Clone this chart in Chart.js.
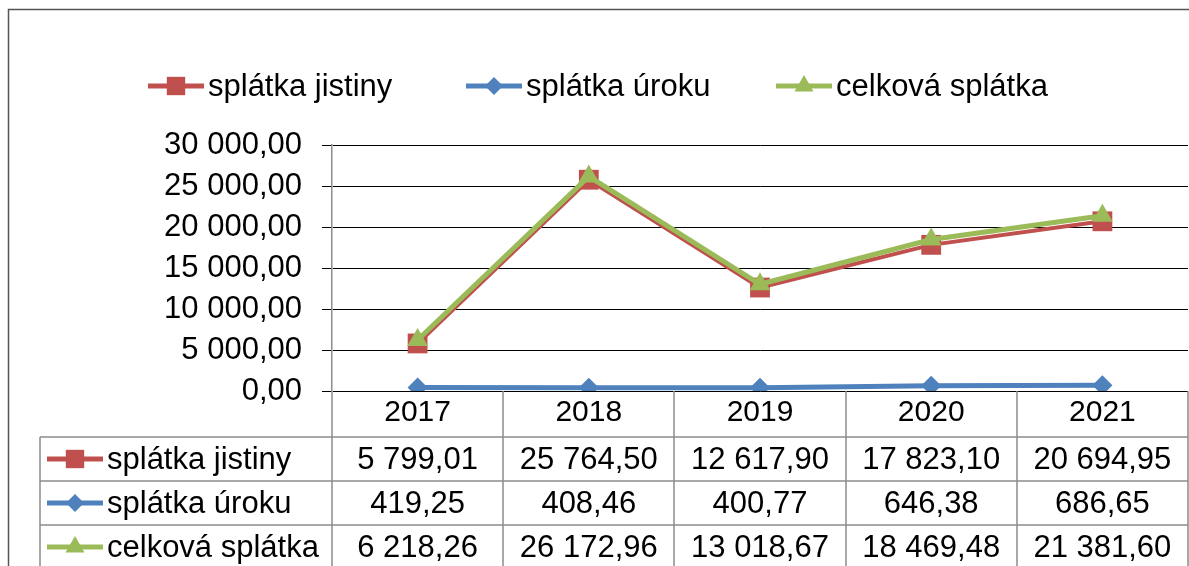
<!DOCTYPE html>
<html>
<head>
<meta charset="utf-8">
<script src="https://cdn.jsdelivr.net/npm/chart.js@4/dist/chart.umd.min.js"></script>
<style>
body { margin: 0; background: #fff; }
</style>
</head>
<body>
<canvas id="graf" width="1189" height="566"></canvas>
<script>
// data
const roky = ["2017", "2018", "2019", "2020", "2021"];
const jistina = [5799.01, 25764.50, 12617.90, 17823.10, 20694.95];
const urok = [419.25, 408.46, 400.77, 646.38, 686.65];
const celkem = [6218.26, 26172.96, 13018.67, 18469.48, 21381.60];
const nazvy = ["splátka jistiny", "splátka úroku", "celková splátka"];
const osaMax = 30000;
const osaKrok = 5000;

const barvy = ["#C0504D", "#4F81BD", "#9BBB59"];
const znacky = ["rect", "rectRot", "triangle"];
const polomery = [14, 10, 12];
const pismo = "'Liberation Sans', Arial, sans-serif";
const velikost = 31;

function cislo(v) {
  var s = Number(v).toFixed(2).split(".");
  var cela = s[0].replace(/\B(?=(\d{3})+(?!\d))/g, " ");
  return cela + "," + s[1];
}

function znacka(ctx, i, x, y) {
  ctx.save();
  ctx.strokeStyle = barvy[i];
  ctx.lineWidth = 5;
  ctx.beginPath();
  ctx.moveTo(x - 28, y);
  ctx.lineTo(x + 28, y);
  ctx.stroke();
  ctx.fillStyle = barvy[i];
  Chart.helpers.drawPoint(ctx, { pointStyle: znacky[i], radius: polomery[i] - 1, rotation: 0, borderWidth: 0 }, x, y);
  ctx.restore();
}

// ramecek, legenda a tabulka
const tabulka = {
  id: "tabulka",
  afterDraw(chart) {
    const ctx = chart.ctx;
    const x = chart.scales.x;
    const area = chart.chartArea;
    const rady = [jistina, urok, celkem];

    ctx.save();
    // ramecek grafu
    ctx.strokeStyle = "#555";
    ctx.lineWidth = 1.5;
    ctx.strokeRect(8.5, 9.5, 1400, 800);

    // legenda
    const legX = [176, 494, 804];
    ctx.font = velikost + "px " + pismo;
    ctx.textBaseline = "middle";
    ctx.textAlign = "left";
    for (var i = 0; i < 3; i++) {
      znacka(ctx, i, legX[i], 86);
      ctx.fillStyle = "#000";
      ctx.fillText(nazvy[i], legX[i] + 32, 87);
    }

    // mrizka tabulky
    const sirka = x.getPixelForValue(1) - x.getPixelForValue(0);
    const levo = 40;
    const hlavicka = area.bottom;
    const radek = 44;
    const prvni = x.bottom;
    ctx.strokeStyle = "#8c8c8c";
    ctx.lineWidth = 1.5;
    ctx.beginPath();
    for (var r = 0; r < 3; r++) {
      ctx.moveTo(levo, prvni + r * radek);
      ctx.lineTo(area.right, prvni + r * radek);
    }
    ctx.moveTo(levo, prvni);
    ctx.lineTo(levo, 566);
    for (var c = 0; c <= roky.length; c++) {
      var px = Math.round(x.getPixelForValue(0) - sirka / 2 + c * sirka);
      if (c == roky.length) px = area.right;
      ctx.moveTo(px, hlavicka);
      ctx.lineTo(px, 566);
    }
    ctx.stroke();

    // radky tabulky
    for (var r = 0; r < 3; r++) {
      var cy = prvni + r * radek + radek / 2;
      znacka(ctx, r, 75, cy);
      ctx.fillStyle = "#000";
      ctx.textAlign = "left";
      ctx.fillText(nazvy[r], 107, cy + 1);
      ctx.textAlign = "center";
      for (var c = 0; c < roky.length; c++) {
        ctx.fillText(cislo(rady[r][c]), x.getPixelForValue(c), cy + 1);
      }
    }
    ctx.restore();
  }
};

Chart.defaults.font.family = pismo;
Chart.defaults.color = "#000";

const ctx = document.getElementById("graf").getContext("2d");
const graf = new Chart(ctx, {
  type: "line",
  data: {
    labels: roky,
    datasets: [
      {
        label: nazvy[0],
        data: jistina,
        borderColor: barvy[0],
        backgroundColor: barvy[0],
        borderWidth: 4,
        pointStyle: znacky[0],
        pointRadius: polomery[0],
        pointBorderWidth: 0,
        order: 1
      },
      {
        label: nazvy[1],
        data: urok,
        borderColor: barvy[1],
        backgroundColor: barvy[1],
        borderWidth: 5,
        pointStyle: znacky[1],
        pointRadius: polomery[1],
        pointBorderWidth: 0,
        order: 2
      },
      {
        label: nazvy[2],
        data: celkem,
        borderColor: barvy[2],
        backgroundColor: barvy[2],
        borderWidth: 5,
        pointStyle: znacky[2],
        pointRadius: polomery[2],
        pointBorderWidth: 0,
        order: 0
      }
    ]
  },
  options: {
    responsive: false,
    devicePixelRatio: 1,
    animation: false,
    layout: {
      autoPadding: false,
      padding: { left: 0, right: 1, top: 145, bottom: 129 }
    },
    plugins: {
      legend: { display: false },
      tooltip: { enabled: false }
    },
    elements: {
      line: { tension: 0 }
    },
    scales: {
      x: {
        offset: true,
        grid: { display: false, drawTicks: false },
        border: { display: false },
        ticks: { color: "#000", font: { size: 30 }, padding: 4 },
        afterFit(s) {
          s.height = 46;
          s.paddingLeft = 0;
          s.paddingRight = 0;
        }
      },
      y: {
        min: 0,
        max: osaMax,
        ticks: {
          stepSize: osaKrok,
          color: "#000",
          font: { size: velikost },
          padding: 20,
          callback: function (v) { return cislo(v); }
        },
        grid: { color: "#000", lineWidth: 1, tickLength: 10, drawTicks: true },
        border: { color: "#8c8c8c", width: 1.5 },
        afterFit(s) {
          s.width = 332;
          s.paddingTop = 0;
          s.paddingBottom = 0;
        }
      }
    }
  },
  plugins: [tabulka]
});
</script>
</body>
</html>
